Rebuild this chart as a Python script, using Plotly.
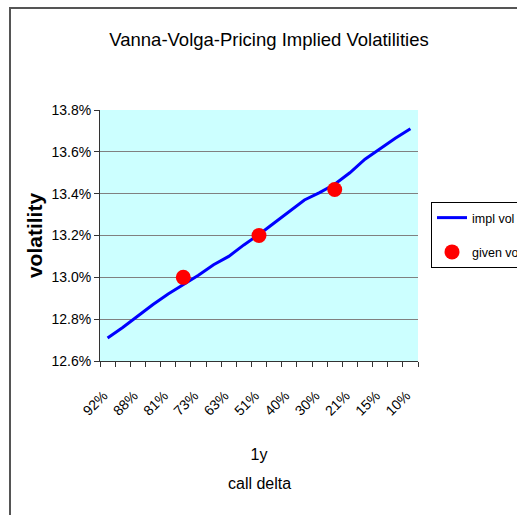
import plotly.graph_objects as go

# ---- data ----
categories = ["92%", "90%", "88%", "85%", "81%", "77%", "73%", "68%", "63%", "57%", "51%",
              "45%", "40%", "35%", "30%", "25%", "21%", "18%", "15%", "12%", "10%"]
label_every = 2
impl_vol = [12.71, 12.76, 12.815, 12.87, 12.92, 12.965, 13.01, 13.06, 13.10, 13.155, 13.205,
            13.26, 13.315, 13.37, 13.405, 13.445, 13.50, 13.565, 13.615, 13.665, 13.71]
given_delta = ["77%", "51%", "25%"]
given_vol = [13.00, 13.20, 13.42]
y_ticks = [12.6, 12.8, 13.0, 13.2, 13.4, 13.6, 13.8]

FONT = "Liberation Sans, Arial, sans-serif"

x_idx = list(range(len(categories)))
given_idx = [categories.index(d) for d in given_delta]

W, H = 517, 515
L, R, T, B = 100, 418, 110, 361   # plot area in px

fig = go.Figure()
fig.add_trace(go.Scatter(
    x=x_idx, y=[v / 100 for v in impl_vol], mode="lines", name="impl vol",
    line=dict(color="#0000FF", width=3), legendgroup="a"))
fig.add_trace(go.Scatter(
    x=given_idx, y=[v / 100 for v in given_vol], mode="markers", name="given vol",
    marker=dict(color="#FF0000", size=15, symbol="circle"), legendgroup="b"))

fig.update_layout(
    width=W, height=H,
    margin=dict(l=L, r=W - R, t=T, b=H - B, autoexpand=False),
    paper_bgcolor="white", plot_bgcolor="#CCFFFF",
    font=dict(family=FONT, color="black"),
    title=dict(text="Vanna-Volga-Pricing Implied Volatilities",
               font=dict(family=FONT, size=18.5, color="black"),
               x=269 / W, xref="container", xanchor="center",
               y=1 - 40 / H, yref="container", yanchor="middle"),
    showlegend=True,
    legend=dict(xref="container", yref="container",
                x=431 / W, y=1 - 202 / H, xanchor="left", yanchor="top",
                bgcolor="white", bordercolor="black", borderwidth=1,
                font=dict(family=FONT, size=12.5, color="black"),
                traceorder="grouped", tracegroupgap=15),
    xaxis=dict(
        automargin=False,
        range=[-0.5, len(categories) - 0.5],
        tickmode="array",
        tickvals=x_idx[::label_every],
        ticktext=categories[::label_every],
        tickangle=-45, ticks="",
        tickfont=dict(family=FONT, size=14, color="black"),
        ticklabelstandoff=20, ticklabelshift=-4,
        minor=dict(tick0=0.5, dtick=1, ticks="outside", ticklen=5,
                   tickcolor="#333333", showgrid=False),
        showgrid=False, zeroline=False,
        showline=True, linecolor="#333333", linewidth=1,
        title=dict(text="1y", font=dict(family=FONT, size=16, color="black"), standoff=31),
    ),
    yaxis=dict(
        automargin=False,
        range=[y_ticks[0] / 100, y_ticks[-1] / 100],
        tickmode="array", tickvals=[v / 100 for v in y_ticks],
        tickformat=".1%",
        ticks="outside", ticklen=5, tickcolor="#333333",
        tickfont=dict(family=FONT, size=14, color="black"),
        showgrid=True, gridcolor="#808080", gridwidth=1,
        zeroline=False, showline=True, linecolor="#333333", linewidth=1,
        title=dict(text="<b>volatility</b>",
                   font=dict(family=FONT, size=21, color="black"), standoff=3),
    ),
    annotations=[dict(text="call delta", xref="paper", yref="paper",
                      x=0.5, y=(B - 483) / (B - T), xanchor="center", yanchor="middle",
                      showarrow=False, font=dict(family=FONT, size=16, color="black"))],
    shapes=[dict(type="rect", xref="paper", yref="paper",
                 x0=(10 - L) / (R - L), x1=2.0, y0=-1.0, y1=(B - 8) / (B - T),
                 line=dict(color="#555555", width=2), fillcolor="rgba(0,0,0,0)",
                 layer="below")],
)

fig.write_html(
    "out.html",
    config={"displayModeBar": False},
    post_script="document.body.style.margin='0';document.body.style.overflow='hidden';",
)
